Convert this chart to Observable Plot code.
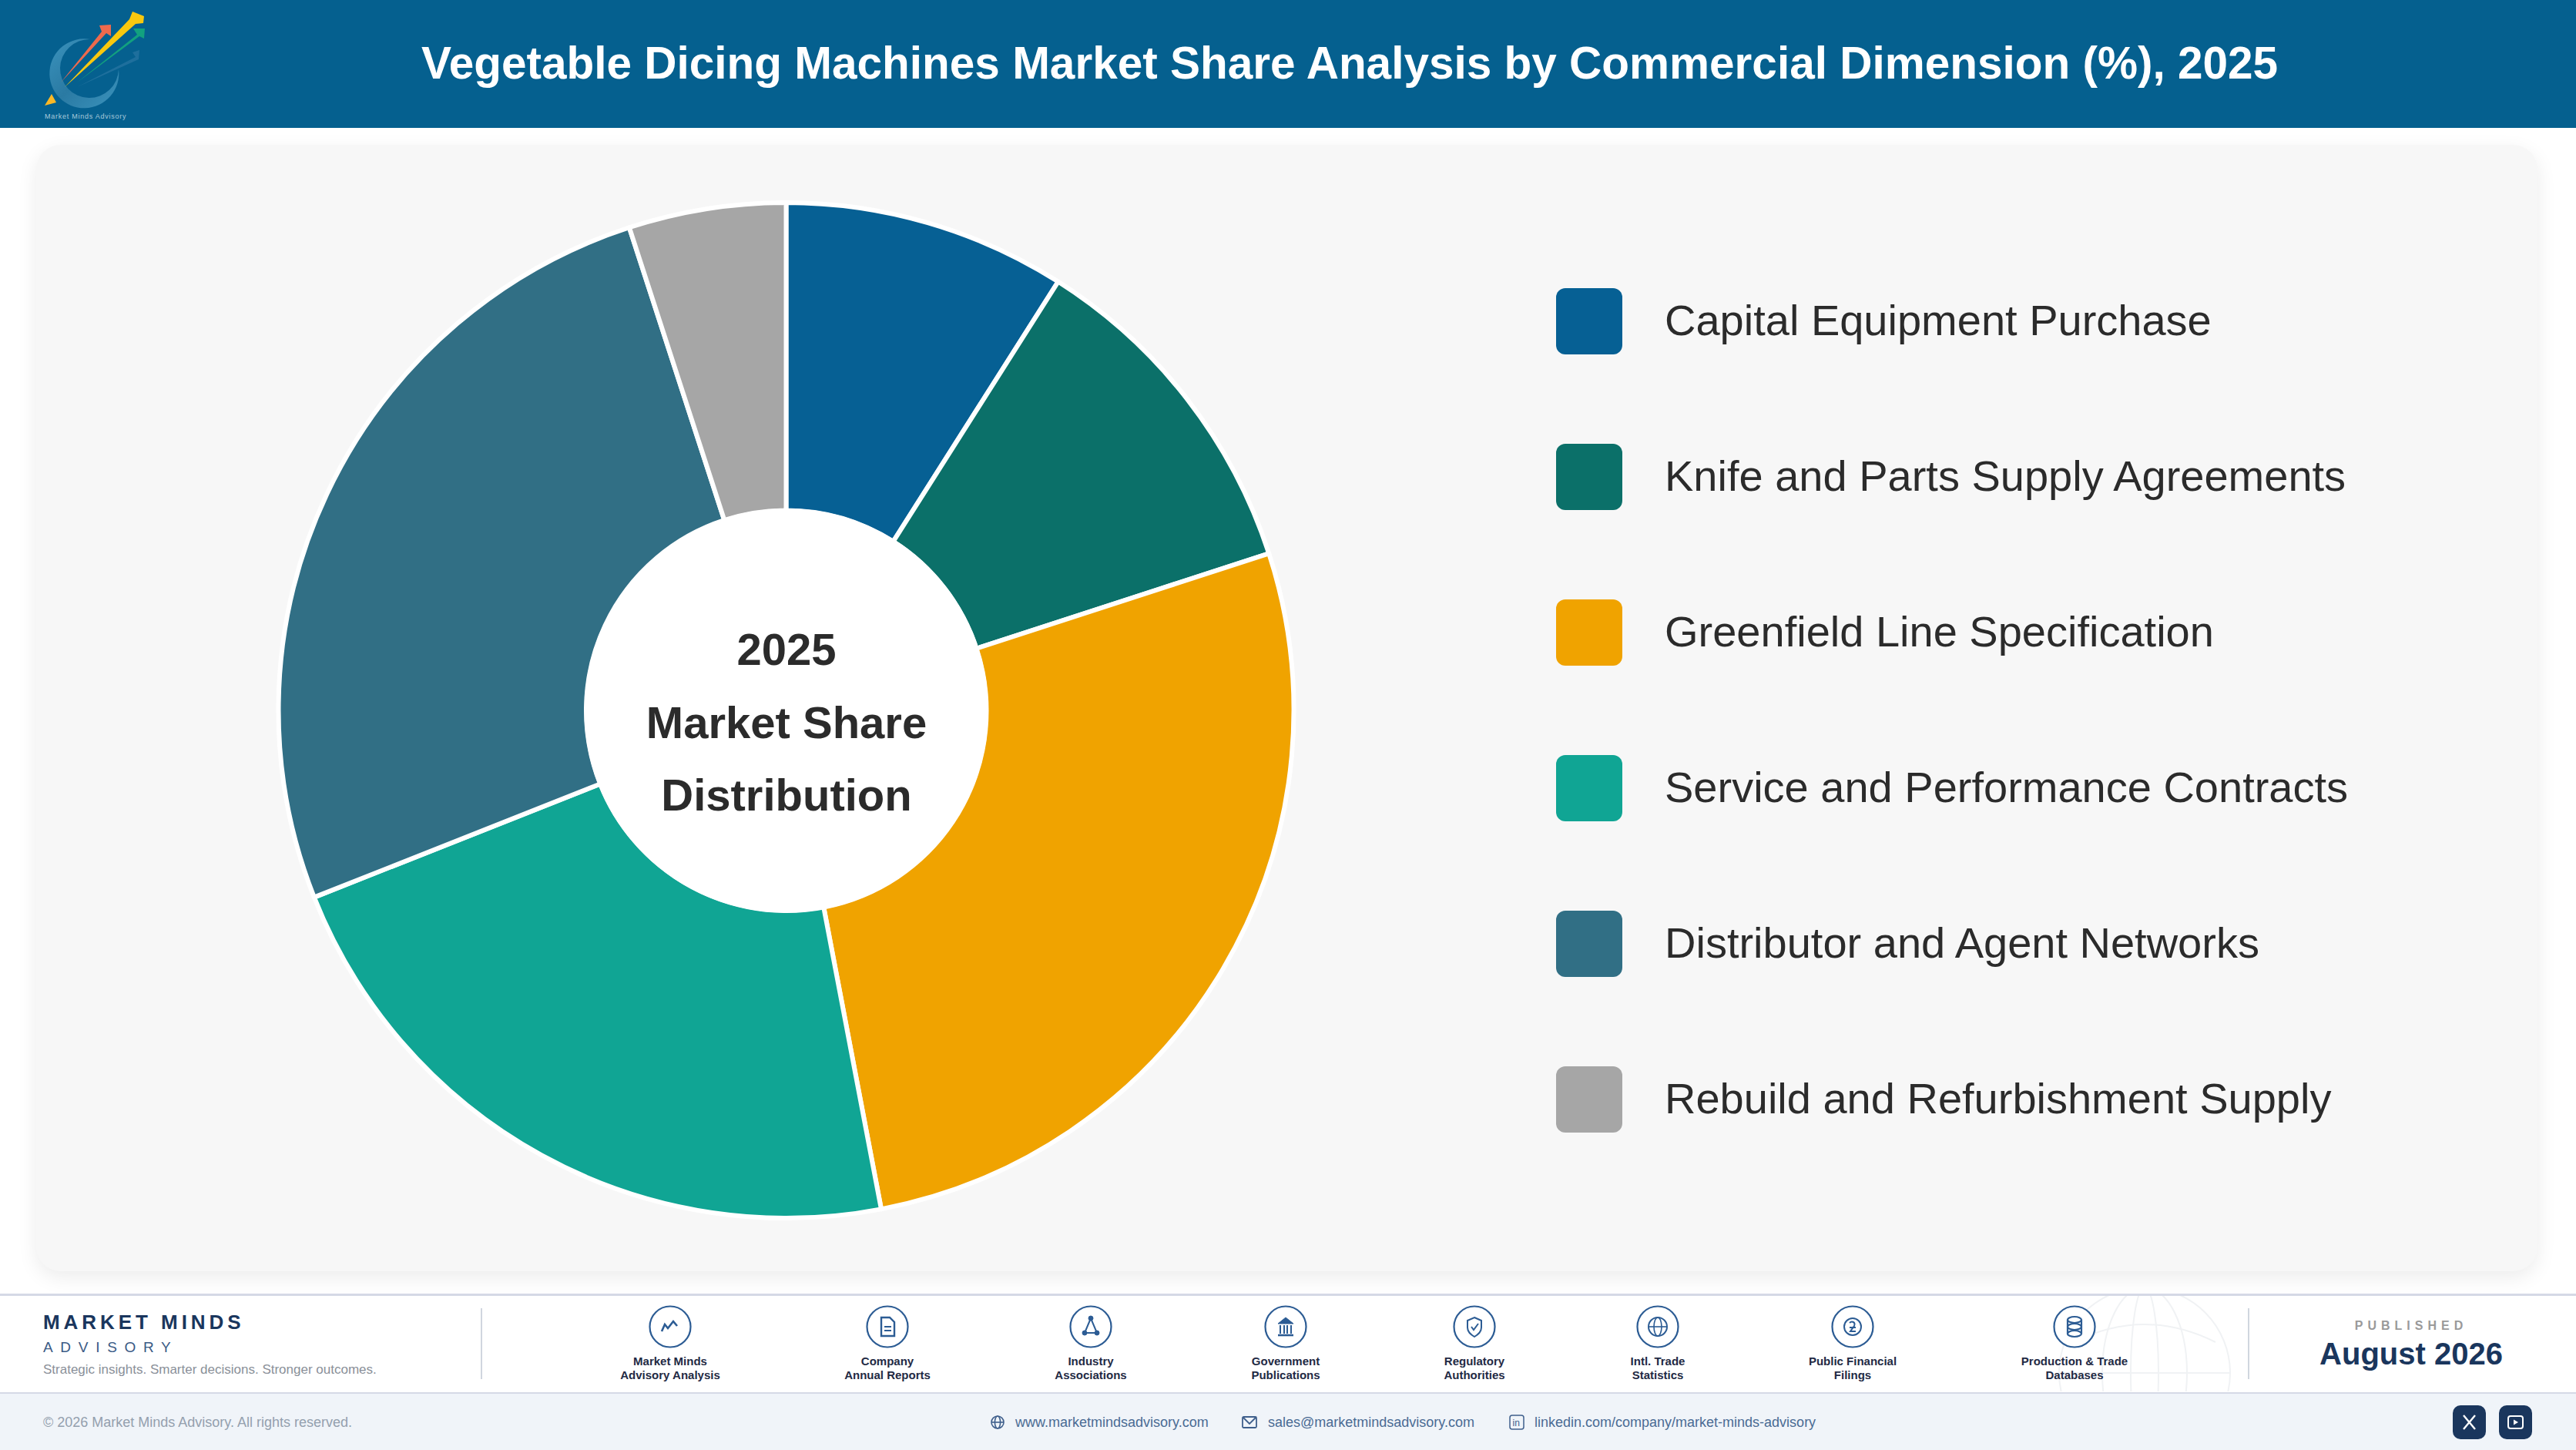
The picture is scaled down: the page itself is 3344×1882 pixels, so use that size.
<!DOCTYPE html>
<html><head><meta charset="utf-8">
<script src="https://cdn.jsdelivr.net/npm/d3@7"></script>
<script src="https://cdn.jsdelivr.net/npm/@observablehq/plot@0.6"></script>
<style>
html,body{margin:0;padding:0;background:#fff;width:3344px;height:1882px;overflow:hidden;font-family:"Liberation Sans",Arial,sans-serif}
.abs{position:absolute;white-space:nowrap}
#header{left:0;top:0;width:3344px;height:166px;background:#05608f}
#title{left:0;top:0;width:3504px;height:166px;line-height:164px;text-align:center;color:#fff;font-weight:700;font-size:58.5px}
#card{left:47px;top:188px;width:3247px;height:1462px;background:#f7f7f7;border-radius:32px;box-shadow:0 8px 26px rgba(0,0,0,.08)}
#chart{left:47px;top:188px}
.sw{left:2020px;width:86px;height:86px;border-radius:12px}
.lg{left:2161px;font-size:56px;line-height:86px;color:#2b2b2b}
#foot{left:0;top:1679px;width:3344px;height:125px;background:#fff;border-top:3px solid #d5d9e6;border-bottom:3px solid #d5d9e6}
#bot{left:0;top:1809px;width:3344px;height:73px;background:#f0f4f9}
.src{width:260px;text-align:center;font-weight:700;font-size:15px;line-height:18px;color:#1f2a44;top:1758px;white-space:pre-line}
.ic{position:absolute;top:1694px;width:56px;height:56px}
.bt{color:#4a6b94;font-size:18px;top:1835px;line-height:22px}
.btn{top:1824px;width:43px;height:44px;border-radius:10px;background:#1a365d}
</style></head><body>
<div class="abs" id="header"></div>
<div class="abs" id="title"></div>
<svg class="abs" style="left:0;top:0" width="400" height="166" viewBox="0 0 400 166">
<defs><linearGradient id="rg" x1="0" y1="0" x2="1" y2="1"><stop offset="0" stop-color="#3b93bd"/><stop offset=".5" stop-color="#2a7aa3"/><stop offset="1" stop-color="#3b93bd"/></linearGradient></defs>
<path d="M117 51A45 45 0 1 0 154 90A38 38 0 1 1 117 51Z" fill="url(#rg)"/>
<path d="M58 137L67 122L73 133Z" fill="#fbb826"/>
<path d="M79 107L132 41L129 33L144 32L144 47L138 43Z" fill="#ee6a4d"/>
<path d="M84 113L168 25L172 15L187 21L186 30L176 31Z" fill="#f9c80e"/>
<path d="M100 107L178 45L173 37L188 37L187 50L181 47Z" fill="#12a17f"/>
<path d="M100 113L176 74L172 68L181 65L180 77Z" fill="#2a76a3" opacity=".7"/>
<text x="58" y="154" font-size="9" letter-spacing=".75" fill="#a9cadb">Market Minds Advisory</text>
</svg>
<div class="abs" id="card"></div>
<div class="abs" id="chart"></div>
<div id="legend"></div>
<div class="abs" id="foot"></div>
<svg class="abs" style="left:2600px;top:1682px" width="360" height="124" viewBox="0 0 360 124" fill="none" stroke="#f0f2f4" stroke-width="2">
<circle cx="184" cy="100" r="111"/><ellipse cx="184" cy="100" rx="55" ry="111"/><ellipse cx="184" cy="100" rx="18" ry="111"/><path d="M73 100H295M92 60Q184 14 276 60"/>
</svg>
<div class="abs" id="bot"></div>
<div class="abs" style="left:624px;top:1698px;width:2px;height:92px;background:#d0d6df"></div>
<div class="abs" style="left:2918px;top:1698px;width:2px;height:92px;background:#d0d6df"></div>
<div class="abs" style="left:56px;top:1701px;font-size:26px;line-height:30px;font-weight:700;letter-spacing:4.95px;color:#1a365d">MARKET MINDS</div>
<div class="abs" style="left:56px;top:1738px;font-size:19px;line-height:22px;letter-spacing:9.7px;color:#3a5a85">ADVISORY</div>
<div class="abs" style="left:56px;top:1767px;font-size:17px;line-height:22px;color:#8a9099">Strategic insights. Smarter decisions. Stronger outcomes.</div>
<div id="sources"></div>
<div class="abs" style="left:2930px;width:400px;text-align:center;top:1711px;font-size:16px;line-height:20px;font-weight:700;letter-spacing:6px;color:#9a9a9a">PUBLISHED</div>
<div class="abs" style="left:2930px;width:400px;text-align:center;top:1732px;font-size:40px;line-height:50px;font-weight:700;color:#1a365d">August 2026</div>
<div class="abs" style="left:56px;top:1835px;font-size:18px;line-height:22px;color:#94a0ae">© 2026 Market Minds Advisory. All rights reserved.</div>
<svg class="abs" style="left:1285px;top:1836px" width="20" height="20" viewBox="0 0 20 20" fill="none" stroke="#3f5f8c" stroke-width="1.6"><circle cx="10" cy="10" r="8"/><ellipse cx="10" cy="10" rx="3.6" ry="8"/><path d="M2 10H18"/></svg>
<div class="abs bt" style="left:1318px">www.marketmindsadvisory.com</div>
<svg class="abs" style="left:1612px;top:1836px" width="20" height="20" viewBox="0 0 20 20" fill="none" stroke="#3f5f8c" stroke-width="1.8"><rect x="1" y="3" width="18" height="14" rx="1.5"/><path d="M2 4L10 12L18 4"/></svg>
<div class="abs bt" style="left:1646px">sales@marketmindsadvisory.com</div>
<svg class="abs" style="left:1959px;top:1836px" width="20" height="20" viewBox="0 0 20 20" fill="none" stroke="#3f5f8c" stroke-width="1.5"><rect x="1" y="1" width="18" height="18" rx="3"/><text x="4.5" y="15" font-size="12" stroke="none" fill="#3f5f8c">in</text></svg>
<div class="abs bt" style="left:1992px">linkedin.com/company/market-minds-advisory</div>
<div class="abs btn" style="left:3184px"><svg width="43" height="44" fill="none" stroke="#fff" stroke-width="2.4"><path d="M14 13L29 31M29 13L14 31"/></svg></div>
<div class="abs btn" style="left:3244px"><svg width="43" height="44" fill="none" stroke="#fff" stroke-width="2"><rect x="12" y="14" width="19" height="16" rx="3"/><path d="M19 18.5L25 22L19 25.5Z" fill="#fff" stroke="none"/></svg></div>
<script>
const pageTitle = "Vegetable Dicing Machines Market Share Analysis by Commercial Dimension (%), 2025";
const categories = ["Capital Equipment Purchase","Knife and Parts Supply Agreements","Greenfield Line Specification","Service and Performance Contracts","Distributor and Agent Networks","Rebuild and Refurbishment Supply"];
const shares = [9,11,27,22,26,5];
const sliceColors = ["#066094","#0b7069","#f0a300","#10a594","#316f85","#a6a6a6"];
const centerLines = ["2025","Market Share","Distribution"];
const sourceLabels = ["Market Minds\nAdvisory Analysis","Company\nAnnual Reports","Industry\nAssociations","Government\nPublications","Regulatory\nAuthorities","Intl. Trade\nStatistics","Public Financial\nFilings","Production & Trade\nDatabases"];
const sourceCenters = [870,1152,1416,1669,1914,2152,2405,2693];
const sourceIcons = [
 '<path d="M17 34L21 25L25 30L32 21L37 27" fill="none" stroke-width="2.6"/>',
 '<path d="M20 16H31L37 22V40H20Z" fill="none" stroke-width="2.4"/><path d="M24 28H33M24 33H33" stroke-width="2"/>',
 '<path d="M28 17L20 36H36Z" fill="none" stroke-width="2"/><circle cx="28" cy="17" r="3" fill="#2c5c94"/><circle cx="20" cy="36" r="3" fill="#2c5c94"/><circle cx="36" cy="36" r="3" fill="#2c5c94"/>',
 '<path d="M28 16L38 24H18Z" fill="#2c5c94"/><path d="M21 26V37M26 26V37M30 26V37M35 26V37" stroke-width="2"/><path d="M18 39H38" stroke-width="2.6"/>',
 '<path d="M28 16L37 20V29C37 35 33 38 28 41C23 38 19 35 19 29V20Z" fill="none" stroke-width="2"/><path d="M24 28L27 32L33 24" fill="none" stroke-width="2"/>',
 '<circle cx="28" cy="28" r="12" fill="none" stroke-width="2"/><ellipse cx="28" cy="28" rx="5" ry="12" fill="none" stroke-width="1.6"/><path d="M16 28H40" stroke-width="1.6"/>',
 '<circle cx="28" cy="28" r="11" fill="none" stroke-width="2"/><path d="M24 23C27 20 32 22 30 27L25 34H32M24 29H32" fill="none" stroke-width="2"/>',
 '<ellipse cx="28" cy="19" rx="9" ry="4" fill="none" stroke-width="2.2"/><ellipse cx="28" cy="28" rx="9" ry="4" fill="none" stroke-width="2.2"/><ellipse cx="28" cy="37" rx="9" ry="4" fill="none" stroke-width="2.2"/><path d="M19 19V37M37 19V37" stroke-width="2.2"/>'
];
const table = categories.map((name,i)=>({name,share:shares[i]}));

document.getElementById("title").textContent = pageTitle;

// Donut: a stacked bar whose x scale runs from 0 to a full turn, drawn as arcs.
const W = 1947, H = 1468, R0 = 259.5, R1 = 659, HOLE = 262.5;
function donut(index, scales, values){
  const g = d3.create("svg:g").attr("transform",`translate(${W/2},${H/2})`);
  const arc = d3.arc().innerRadius(R0).outerRadius(R1);
  for (const i of index){
    g.append("path")
     .attr("d",arc({startAngle:values.x1[i],endAngle:values.x2[i]}))
     .attr("fill",values.fill[i]).attr("stroke","#fff").attr("stroke-width",6).attr("stroke-linejoin","round");
  }
  return g.node();
}
const chart = Plot.plot({
  width:W,height:H,margin:0,
  style:{background:"transparent",fontFamily:'"Liberation Sans",Arial,sans-serif'},
  x:{axis:null,domain:[0,d3.sum(shares)],range:[0,2*Math.PI]},
  color:{domain:categories,range:sliceColors,legend:false},
  marks:[
    Plot.barX(table,Plot.stackX({x:"share",fill:"name",render:donut})),
    Plot.dot([0],{frameAnchor:"middle",r:HOLE,fill:"#fff"}),
    Plot.text([centerLines.join("\n")],{frameAnchor:"middle",dy:5,fontSize:58,fontWeight:700,fill:"#2b2b2b",lineHeight:1.63})
  ]
});
document.getElementById("chart").appendChild(chart);

const legend = document.getElementById("legend");
categories.forEach((c,i)=>{
  const top = 374 + i*202;
  legend.insertAdjacentHTML("beforeend",
   `<div class="abs sw" style="top:${top}px;background:${sliceColors[i]}"></div><div class="abs lg" style="top:${top-1}px">${c}</div>`);
});
const src = document.getElementById("sources");
sourceLabels.forEach((t,i)=>{
  const x = sourceCenters[i];
  src.insertAdjacentHTML("beforeend",
   `<svg class="ic" style="left:${x-28}px" viewBox="0 0 56 56" stroke="#2c5c94"><circle cx="28" cy="28" r="26.5" fill="#fff" stroke-width="2.2"/>${sourceIcons[i]}</svg>`+
   `<div class="abs src" style="left:${x-130}px">${t.replace("&","&amp;")}</div>`);
});
</script>
</body></html>
